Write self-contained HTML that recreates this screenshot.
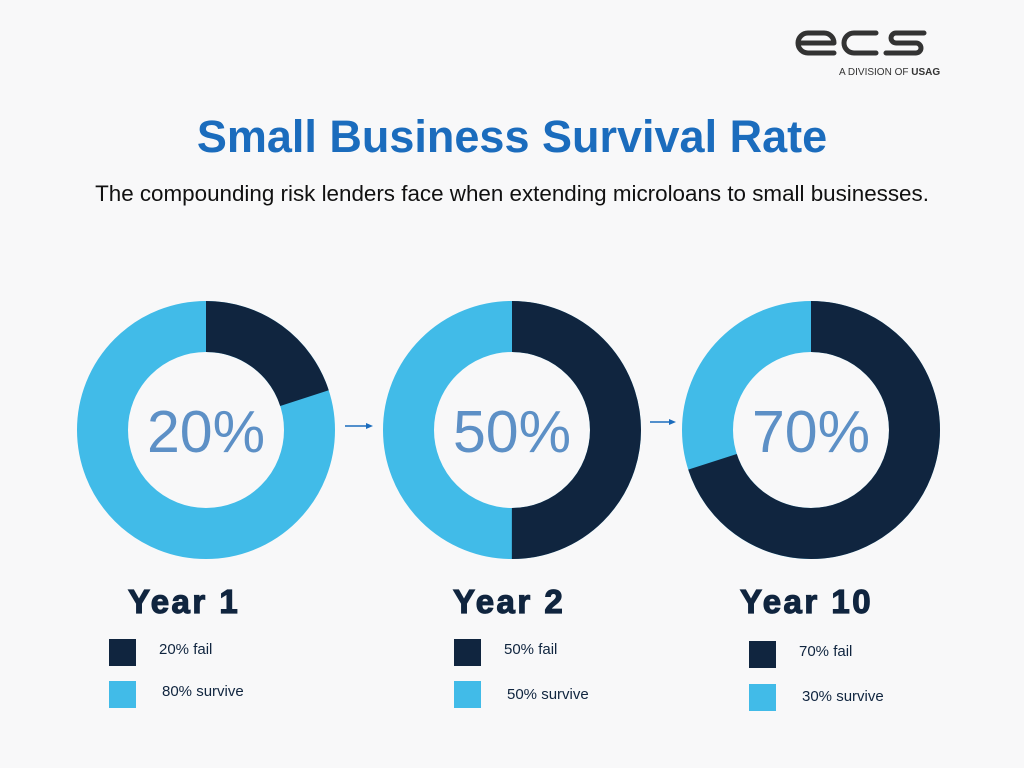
<!DOCTYPE html>
<html><head><meta charset="utf-8"><style>
body{margin:0;width:1024px;height:768px;background:#f8f8f9;position:relative;overflow:hidden;font-family:"Liberation Sans",sans-serif}
.a{position:absolute;white-space:nowrap}
.yr{font-family:"Liberation Sans",sans-serif;font-weight:bold;font-size:33px;color:#10253f;letter-spacing:2.5px;-webkit-text-stroke:1.2px #10253f}
.lg{font-size:15px;color:#10253f}
.sq{position:absolute;width:27px;height:27px}
</style></head><body>
<svg class="a" style="left:790px;top:25px" width="140" height="40" viewBox="0 0 140 40">
<g fill="none" stroke="#333" stroke-width="5" stroke-linecap="round">
<path d="M26 8 H18 a10 10 0 0 0 0 20 H44 M10 18 H44 M26 8 H34 a10 10 0 0 1 10 10"/>
<path d="M86 8 H64 a10 10 0 0 0 0 20 H86"/>
<path d="M134 8 H106 a5 5 0 0 0 0 10 H126 a5 5 0 0 1 0 10 H96"/>
</g></svg>
<div class="a" style="left:839px;top:67px;font-size:10px;color:#333">A DIVISION OF <b>USAG</b></div>
<div class="a" style="left:0;width:1024px;text-align:center;top:111px;font-size:45px;font-weight:bold;color:#1b6cbd">Small Business Survival Rate</div>
<div class="a" style="left:0;width:1024px;text-align:center;top:181px;font-size:22.4px;color:#111">The compounding risk lenders face when extending microloans to small businesses.</div>
<svg class="a" style="left:0;top:0" width="1024" height="768">
<g fill="none" stroke-width="51">
<circle cx="206" cy="430" r="103.5" stroke="#41bbe8"/>
<circle cx="206" cy="430" r="103.5" stroke="#10253f" stroke-dasharray="130.06 1000" transform="rotate(-90 206 430)"/>
<circle cx="512" cy="430" r="103.5" stroke="#41bbe8"/>
<circle cx="512" cy="430" r="103.5" stroke="#10253f" stroke-dasharray="325.15 1000" transform="rotate(-90 512 430)"/>
<circle cx="811" cy="430" r="103.5" stroke="#41bbe8"/>
<circle cx="811" cy="430" r="103.5" stroke="#10253f" stroke-dasharray="455.2 1000" transform="rotate(-90 811 430)"/>
</g>
<g stroke="#1b6cbd" stroke-width="1.5" fill="#1b6cbd">
<line x1="345" y1="426" x2="367" y2="426"/><polygon points="373,426 366,423 366,429" stroke="none"/>
<line x1="650" y1="422" x2="670" y2="422"/><polygon points="676,422 669,419 669,425" stroke="none"/>
</g>
<g font-family="Liberation Sans,sans-serif" font-size="59" fill="#5d90c6" text-anchor="middle">
<text x="206" y="452">20%</text><text x="512" y="452">50%</text><text x="811" y="452">70%</text>
</g></svg>
<div class="a yr" style="left:128px;top:583px">Year 1</div>
<div class="a yr" style="left:453px;top:583px">Year 2</div>
<div class="a yr" style="left:740px;top:583px">Year 10</div>
<div class="sq" style="left:109px;top:639px;background:#10253f"></div>
<div class="sq" style="left:109px;top:681px;background:#41bbe8"></div>
<div class="a lg" style="left:159px;top:641px">20% fail</div>
<div class="a lg" style="left:162px;top:683px">80% survive</div>
<div class="sq" style="left:454px;top:639px;background:#10253f"></div>
<div class="sq" style="left:454px;top:681px;background:#41bbe8"></div>
<div class="a lg" style="left:504px;top:641px">50% fail</div>
<div class="a lg" style="left:507px;top:686px">50% survive</div>
<div class="sq" style="left:749px;top:641px;background:#10253f"></div>
<div class="sq" style="left:749px;top:684px;background:#41bbe8"></div>
<div class="a lg" style="left:799px;top:643px">70% fail</div>
<div class="a lg" style="left:802px;top:688px">30% survive</div>
</body></html>
